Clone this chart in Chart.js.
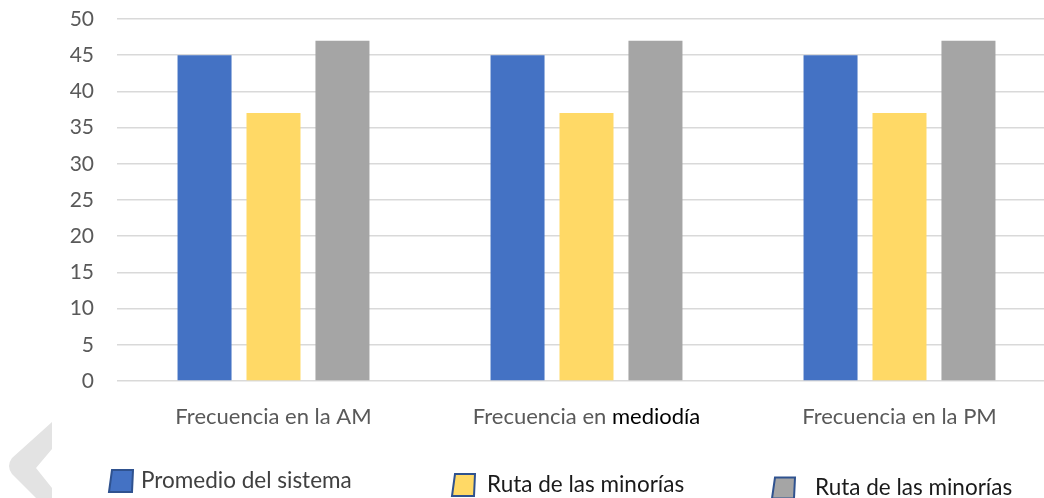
<!DOCTYPE html>
<html lang="es">
<head>
<meta charset="utf-8">
<title>Frecuencia del servicio</title>
<script src="https://cdn.jsdelivr.net/npm/chart.js@4/dist/chart.umd.min.js"></script>
<style>
  html, body { margin: 0; padding: 0; background: #ffffff; overflow: hidden; }
  #wrap { width: 1060px; height: 498px; }
</style>
</head>
<body>
<div id="wrap"><canvas id="chart" width="1060" height="498"></canvas></div>
<script>
// Categories and the word of each label that is set in black
const categories = ["Frecuencia en la AM", "Frecuencia en mediodía", "Frecuencia en la PM"];
const emphasis = ["", "mediodía", ""];

// Series
const seriesNames = ["Promedio del sistema", "Ruta de las minorías", "Ruta de las minorías"];
const promedioSistema = [45, 45, 45];
const rutaMinoriasA = [37, 37, 37];
const rutaMinoriasB = [47, 47, 47];

// Y axis ticks
const yTicks = [0, 5, 10, 15, 20, 25, 30, 35, 40, 45, 50];

const FONT = "Lato, 'Open Sans', sans-serif";
const AXIS_COLOR = "#595959";
const fills = ["#4472C4", "#FFD966", "#A5A5A5"];
const legendBorder = "#2F528F";

// Grey chevron at the lower left corner
const chevronPlugin = {
  id: "chevron",
  beforeDraw(chart) {
    const ctx = chart.ctx;
    ctx.save();
    ctx.fillStyle = "#E3E3E3";
    ctx.beginPath();
    ctx.moveTo(52, 422);
    ctx.lineTo(12, 458);
    ctx.quadraticCurveTo(6, 466, 12, 474);
    ctx.lineTo(52, 514);
    ctx.lineTo(52, 488);
    ctx.lineTo(36, 468);
    ctx.lineTo(52, 449);
    ctx.closePath();
    ctx.fill();
    ctx.restore();
  }
};

// Category labels below the axis, with an emphasised word in black
const xLabelPlugin = {
  id: "xLabels",
  afterDraw(chart) {
    const ctx = chart.ctx;
    const xs = chart.scales.x;
    ctx.save();
    ctx.font = "22px " + FONT;
    ctx.textBaseline = "middle";
    ctx.textAlign = "left";
    categories.forEach((label, i) => {
      const cx = xs.getPixelForValue(i);
      const em = emphasis[i];
      const head = em ? label.slice(0, label.lastIndexOf(em)) : label;
      const wHead = ctx.measureText(head).width;
      const wEm = em ? ctx.measureText(em).width : 0;
      const x = cx - (wHead + wEm) / 2;
      ctx.fillStyle = AXIS_COLOR;
      ctx.fillText(head, x, 417);
      if (em) {
        ctx.fillStyle = "#000000";
        ctx.fillText(em, x + wHead, 417);
      }
    });
    ctx.restore();
  }
};

// Legend row with slanted swatches
const legendPlugin = {
  id: "legendRow",
  afterDraw(chart) {
    const ctx = chart.ctx;
    const slots = [
      { box: 110, text: 141, y: 481, w: 23, h: 22, color: "#404040" },
      { box: 453, text: 487, y: 485, w: 22, h: 22, color: "#1a1a1a" },
      { box: 773, text: 815, y: 488, w: 22, h: 21, color: "#1a1a1a" }
    ];
    ctx.save();
    ctx.font = "22.5px " + FONT;
    ctx.textBaseline = "middle";
    ctx.textAlign = "left";
    chart.data.datasets.forEach((ds, i) => {
      const s = slots[i];
      const top = s.y - s.h / 2;
      ctx.beginPath();
      ctx.moveTo(s.box + 2, top);
      ctx.lineTo(s.box + s.w, top);
      ctx.lineTo(s.box + s.w - 1, top + s.h);
      ctx.lineTo(s.box - 1, top + s.h);
      ctx.closePath();
      ctx.fillStyle = ds.backgroundColor;
      ctx.fill();
      ctx.lineWidth = 2;
      ctx.strokeStyle = legendBorder;
      ctx.stroke();
      ctx.fillStyle = s.color;
      ctx.fillText(ds.label, s.text, s.y);
    });
    ctx.restore();
  }
};

const values = [promedioSistema, rutaMinoriasA, rutaMinoriasB];

new Chart(document.getElementById("chart"), {
  type: "bar",
  data: {
    labels: categories,
    datasets: values.map((v, i) => ({
      label: seriesNames[i],
      data: v,
      backgroundColor: fills[i],
      borderWidth: 0,
      categoryPercentage: 0.661,
      barPercentage: 0.783
    }))
  },
  options: {
    responsive: false,
    animation: false,
    events: [],
    layout: { padding: { top: 19, right: 4, bottom: 0, left: 0 } },
    plugins: {
      legend: { display: false },
      tooltip: { enabled: false }
    },
    scales: {
      x: {
        grid: { display: false },
        border: { display: false },
        ticks: { display: false },
        afterFit(scale) { scale.height = 117; }
      },
      y: {
        min: 0,
        max: 50,
        afterBuildTicks(scale) { scale.ticks = yTicks.map(v => ({ value: v })); },
        afterFit(scale) { scale.width = 117; },
        border: { display: false },
        grid: {
          color: "#D9D9D9",
          lineWidth: 1.5,
          drawTicks: true,
          tickLength: 23,
          tickColor: "rgba(0,0,0,0)"
        },
        ticks: {
          padding: 0,
          color: AXIS_COLOR,
          font: { family: FONT, size: 21 }
        }
      }
    }
  },
  plugins: [chevronPlugin, xLabelPlugin, legendPlugin]
});
</script>
</body>
</html>
